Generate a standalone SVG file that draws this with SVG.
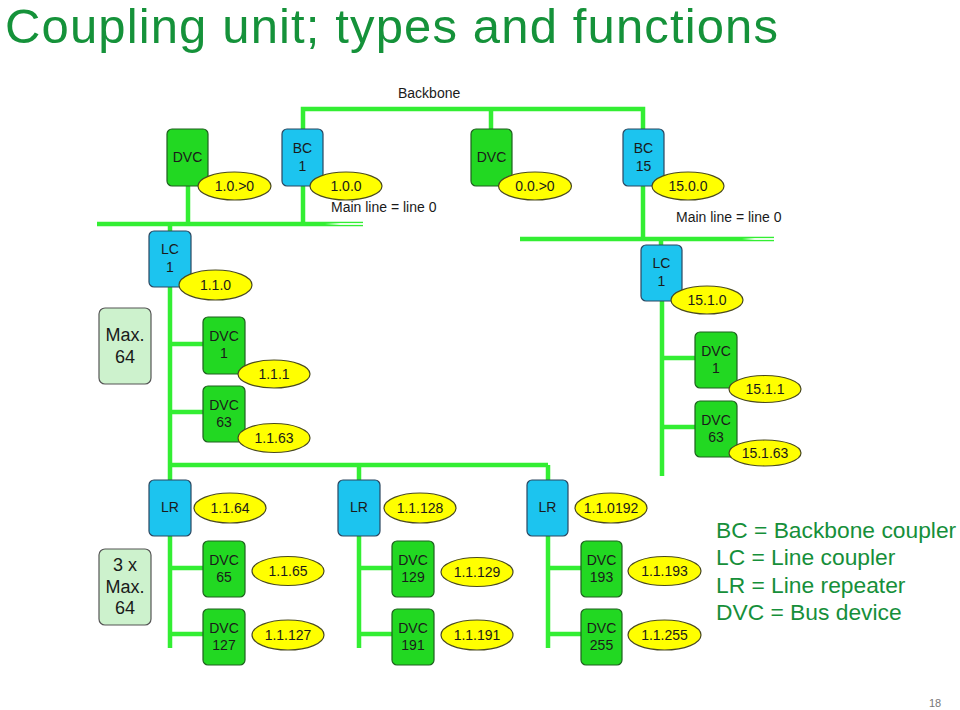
<svg xmlns="http://www.w3.org/2000/svg" width="960" height="710" viewBox="0 0 960 710">
<defs>
<style>
text{font-family:"Liberation Sans",Arial,sans-serif;fill:#1a1a1a}
.t14{font-size:14px;text-anchor:middle}
.lbl{font-size:14px}
.dvc{fill:#22d822;stroke:#1f5f1f;stroke-width:1.2}
.cpl{fill:#1cc4ef;stroke:#2a4660;stroke-width:1.2}
.addr{fill:#ffff00;stroke:#4a4a20;stroke-width:1.2}
.max{fill:#cdf2cd;stroke:#555;stroke-width:1.2}
.bus{fill:none;stroke:#33ee33;stroke-width:4.5;stroke-linecap:butt}
.mt{font-size:18px;text-anchor:middle}
.leg{font-size:22.8px;fill:#168f3a}
</style>
<linearGradient id="fade" x1="0" y1="0" x2="1" y2="0">
<stop offset="0" stop-color="#ffffff" stop-opacity="0"/>
<stop offset="0.4" stop-color="#ffffff" stop-opacity="0.9"/>
<stop offset="1" stop-color="#ffffff" stop-opacity="0.9"/>
</linearGradient>
</defs>
<rect width="960" height="710" fill="#ffffff"/>
<text x="5" y="43" textLength="773" lengthAdjust="spacing" style="font-size:49px;fill:#15923a">Coupling unit; types and functions</text>

<g id="connectors">
<path class="bus" d="M303,129 V109 H643 V129"/>
<path class="bus" d="M491,109 V129"/>
<path class="bus" d="M97,224 H363"/>
<path class="bus" d="M188,186 V224"/>
<path class="bus" d="M303,186 V224"/>
<path class="bus" d="M520,239 H774"/>
<path class="bus" d="M643,186 V239"/>
<path class="bus" d="M170,224 V231"/>
<path class="bus" d="M170,287 V480"/>
<path class="bus" d="M170,344 H203"/>
<path class="bus" d="M170,412 H203"/>
<path class="bus" d="M170,465 H548 M359,465 V480 M548,465 V480"/>
<path class="bus" d="M661,239 V245"/>
<path class="bus" d="M662,301 V476"/>
<path class="bus" d="M662,358 H695"/>
<path class="bus" d="M662,427 H695"/>
<path class="bus" d="M170,536 V648 M170,568 H203 M170,634 H203"/>
<path class="bus" d="M359,536 V648 M359,568 H392 M359,634 H392"/>
<path class="bus" d="M548,536 V648 M548,568 H581 M548,634 H581"/>
<rect x="325" y="223" width="38" height="2" fill="url(#fade)"/>
<rect x="742" y="238" width="32" height="2" fill="url(#fade)"/>
</g>

<text class="lbl" x="398" y="98">Backbone</text>
<text class="lbl" x="331" y="212">Main line = line 0</text>
<text class="lbl" x="676" y="222">Main line = line 0</text>

<g id="dvc-top-a">
<rect class="dvc" x="167" y="129" width="41" height="57" rx="5"/>
<text class="t14" x="187.5" y="162">DVC</text>
<ellipse class="addr" cx="234.5" cy="186" rx="36.5" ry="14"/>
<text class="t14" x="234.5" y="191">1.0.&gt;0</text>
</g>
<g id="bc1">
<rect class="cpl" x="282" y="129" width="41" height="57" rx="5"/>
<text class="t14" x="302.5" y="153">BC</text>
<text class="t14" x="302.5" y="171">1</text>
<ellipse class="addr" cx="346" cy="186" rx="36" ry="14"/>
<text class="t14" x="346" y="191">1.0.0</text>
</g>
<g id="dvc-top-b">
<rect class="dvc" x="471" y="129" width="41" height="57" rx="5"/>
<text class="t14" x="491.5" y="162">DVC</text>
<ellipse class="addr" cx="535" cy="186" rx="36.5" ry="14"/>
<text class="t14" x="535" y="191">0.0.&gt;0</text>
</g>
<g id="bc15">
<rect class="cpl" x="623" y="129" width="41" height="57" rx="5"/>
<text class="t14" x="643.5" y="153">BC</text>
<text class="t14" x="643.5" y="171">15</text>
<ellipse class="addr" cx="688" cy="186" rx="36" ry="14"/>
<text class="t14" x="688" y="191">15.0.0</text>
</g>

<g id="lc1-left">
<rect class="cpl" x="149" y="231" width="42" height="56" rx="5"/>
<text class="t14" x="170" y="254">LC</text>
<text class="t14" x="170" y="272">1</text>
<ellipse class="addr" cx="215.5" cy="285" rx="36.5" ry="15"/>
<text class="t14" x="215.5" y="290">1.1.0</text>
</g>
<g id="max64">
<rect class="max" x="99" y="308" width="52" height="76" rx="6"/>
<text class="mt" x="125" y="341">Max.</text>
<text class="mt" x="125" y="363">64</text>
</g>
<g id="dvc1-left">
<rect class="dvc" x="203" y="317" width="42" height="57" rx="5"/>
<text class="t14" x="224" y="341">DVC</text>
<text class="t14" x="224" y="358">1</text>
<ellipse class="addr" cx="274" cy="374" rx="36" ry="14"/>
<text class="t14" x="274" y="379">1.1.1</text>
</g>
<g id="dvc63-left">
<rect class="dvc" x="203" y="386" width="42" height="56" rx="5"/>
<text class="t14" x="224" y="410">DVC</text>
<text class="t14" x="224" y="427">63</text>
<ellipse class="addr" cx="274" cy="438" rx="36" ry="14.5"/>
<text class="t14" x="274" y="443">1.1.63</text>
</g>

<g id="lc1-right">
<rect class="cpl" x="641" y="245" width="41" height="56" rx="5"/>
<text class="t14" x="661.5" y="268">LC</text>
<text class="t14" x="661.5" y="286">1</text>
<ellipse class="addr" cx="707" cy="300" rx="36" ry="14"/>
<text class="t14" x="707" y="305">15.1.0</text>
</g>
<g id="dvc1-right">
<rect class="dvc" x="695" y="332" width="42" height="56" rx="5"/>
<text class="t14" x="716" y="356">DVC</text>
<text class="t14" x="716" y="373">1</text>
<ellipse class="addr" cx="765" cy="389" rx="36" ry="13.5"/>
<text class="t14" x="765" y="394">15.1.1</text>
</g>
<g id="dvc63-right">
<rect class="dvc" x="695" y="401" width="42" height="56" rx="5"/>
<text class="t14" x="716" y="425">DVC</text>
<text class="t14" x="716" y="442">63</text>
<ellipse class="addr" cx="765" cy="453" rx="36" ry="13"/>
<text class="t14" x="765" y="458">15.1.63</text>
</g>

<g id="lr1">
<rect class="cpl" x="149" y="480" width="42" height="56" rx="5"/>
<text class="t14" x="170" y="512">LR</text>
<ellipse class="addr" cx="230" cy="508" rx="36" ry="15"/>
<text class="t14" x="230" y="513">1.1.64</text>
</g>
<g id="lr2">
<rect class="cpl" x="338" y="480" width="42" height="56" rx="5"/>
<text class="t14" x="359" y="512">LR</text>
<ellipse class="addr" cx="420" cy="508" rx="36" ry="15"/>
<text class="t14" x="420" y="513">1.1.128</text>
</g>
<g id="lr3">
<rect class="cpl" x="527" y="480" width="41" height="56" rx="5"/>
<text class="t14" x="547.5" y="512">LR</text>
<ellipse class="addr" cx="611" cy="508" rx="36" ry="15"/>
<text class="t14" x="611" y="513">1.1.0192</text>
</g>
<g id="max3x64">
<rect class="max" x="99" y="549" width="52" height="76" rx="6"/>
<text class="mt" x="125" y="571">3 x</text>
<text class="mt" x="125" y="593">Max.</text>
<text class="mt" x="125" y="614">64</text>
</g>
<g id="dvc65">
<rect class="dvc" x="203" y="541" width="42" height="56" rx="5"/>
<text class="t14" x="224" y="565">DVC</text>
<text class="t14" x="224" y="582">65</text>
<ellipse class="addr" cx="288" cy="571" rx="36" ry="14.5"/>
<text class="t14" x="288" y="576">1.1.65</text>
</g>
<g id="dvc127">
<rect class="dvc" x="203" y="609" width="42" height="56" rx="5"/>
<text class="t14" x="224" y="633">DVC</text>
<text class="t14" x="224" y="650">127</text>
<ellipse class="addr" cx="288" cy="635" rx="36" ry="15"/>
<text class="t14" x="288" y="640">1.1.127</text>
</g>
<g id="dvc129">
<rect class="dvc" x="392" y="541" width="42" height="56" rx="5"/>
<text class="t14" x="413" y="565">DVC</text>
<text class="t14" x="413" y="582">129</text>
<ellipse class="addr" cx="477" cy="572" rx="36" ry="14.5"/>
<text class="t14" x="477" y="577">1.1.129</text>
</g>
<g id="dvc191">
<rect class="dvc" x="392" y="609" width="42" height="56" rx="5"/>
<text class="t14" x="413" y="633">DVC</text>
<text class="t14" x="413" y="650">191</text>
<ellipse class="addr" cx="477" cy="635" rx="36" ry="15"/>
<text class="t14" x="477" y="640">1.1.191</text>
</g>
<g id="dvc193">
<rect class="dvc" x="581" y="541" width="41" height="56" rx="5"/>
<text class="t14" x="601.5" y="565">DVC</text>
<text class="t14" x="601.5" y="582">193</text>
<ellipse class="addr" cx="664.5" cy="571" rx="36.5" ry="14.5"/>
<text class="t14" x="664.5" y="576">1.1.193</text>
</g>
<g id="dvc255">
<rect class="dvc" x="581" y="609" width="41" height="56" rx="5"/>
<text class="t14" x="601.5" y="633">DVC</text>
<text class="t14" x="601.5" y="650">255</text>
<ellipse class="addr" cx="664.5" cy="635" rx="36.5" ry="15"/>
<text class="t14" x="664.5" y="640">1.1.255</text>
</g>

<g id="legend">
<text class="leg" x="716" y="538">BC = Backbone coupler</text>
<text class="leg" x="716" y="565">LC = Line coupler</text>
<text class="leg" x="716" y="593">LR = Line repeater</text>
<text class="leg" x="716" y="620">DVC = Bus device</text>
</g>
<text x="929" y="707" style="font-size:11px;fill:#777">18</text>
</svg>
